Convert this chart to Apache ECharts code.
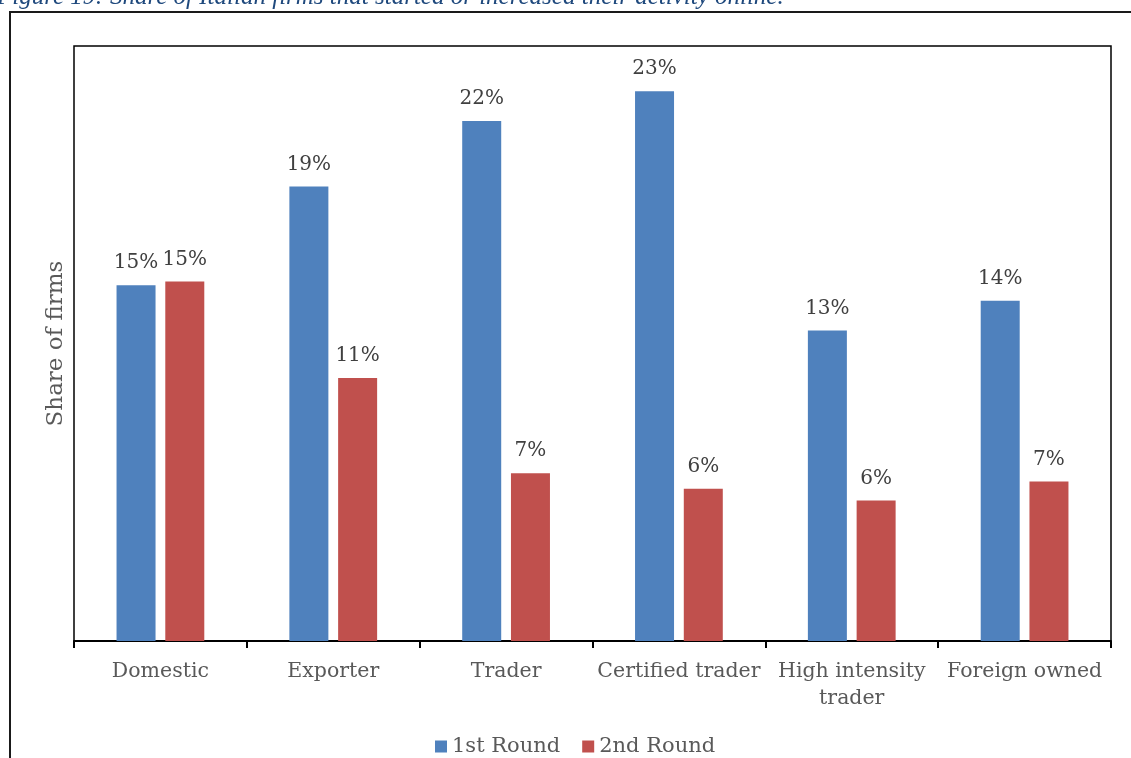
<!DOCTYPE html>
<html>
<head>
<meta charset="utf-8">
<script src="https://cdn.jsdelivr.net/npm/echarts@6/dist/echarts.min.js"></script>
<style>
html,body{margin:0;padding:0;background:#fff;}
#chart{width:1131px;height:758px;}
</style>
</head>
<body>
<div id="chart"></div>
<script>
var categories = ['Domestic', 'Exporter', 'Trader', 'Certified trader', 'High intensity\ntrader', 'Foreign owned'];
var seriesNames = ['1st Round', '2nd Round'];
var round1 = [14.95, 19.1, 21.85, 23.1, 13.05, 14.3];
var round2 = [15.1, 11.05, 7.05, 6.4, 5.9, 6.7];
var titleText = 'Figure 19: Share of Italian firms that started or increased their activity online.';
var yAxisName = 'Share of firms';

var FONT = 'DejaVu Serif';
var chart = echarts.init(document.getElementById('chart'), null, {renderer: 'canvas'});

function labelCfg() {
  return {
    show: true,
    position: 'top',
    distance: 12,
    fontFamily: FONT,
    fontSize: 20,
    color: '#404040',
    formatter: function (p) { return Math.round(p.value) + '%'; }
  };
}

chart.setOption({
  animation: false,
  backgroundColor: '#fff',
  graphic: [
    {
      type: 'rect',
      shape: {x: 10, y: 12, width: 1140, height: 760},
      style: {fill: 'none', stroke: '#1a1a1a', lineWidth: 2},
      z: -1
    },
    {
      type: 'text',
      left: -3,
      top: -15,
      style: {
        text: titleText,
        font: 'italic 25px "Liberation Serif"',
        fill: '#1F497D'
      }
    }
  ],
  grid: {
    left: 74, right: 20, top: 46, bottom: 117,
    show: true,
    borderColor: '#000',
    borderWidth: 1.5,
    containLabel: false
  },
  legend: {
    data: seriesNames,
    left: 430,
    top: 731,
    itemWidth: 12,
    itemHeight: 12,
    itemGap: 22,
    icon: 'rect',
    textStyle: {fontFamily: FONT, fontSize: 21, color: '#595959'}
  },
  xAxis: {
    type: 'category',
    data: categories,
    axisLine: {lineStyle: {color: '#000', width: 2}},
    axisTick: {show: true, length: 7, lineStyle: {color: '#000', width: 2}},
    axisLabel: {
      fontFamily: FONT, fontSize: 20.5, color: '#595959',
      margin: 17, lineHeight: 27, interval: 0
    }
  },
  yAxis: {
    type: 'value',
    min: 0,
    max: 25,
    show: true,
    name: yAxisName,
    nameLocation: 'middle',
    nameGap: 6,
    nameTextStyle: {fontFamily: FONT, fontSize: 23, color: '#595959'},
    axisLine: {show: false},
    axisTick: {show: false},
    axisLabel: {show: false},
    splitLine: {show: false}
  },
  series: [
    {
      name: seriesNames[0],
      type: 'bar',
      data: round1,
      barWidth: 39,
      barGap: '25%',
      itemStyle: {color: '#4F81BD'},
      label: labelCfg()
    },
    {
      name: seriesNames[1],
      type: 'bar',
      data: round2,
      barWidth: 39,
      itemStyle: {color: '#C0504D'},
      label: labelCfg()
    }
  ]
});
</script>
</body>
</html>
